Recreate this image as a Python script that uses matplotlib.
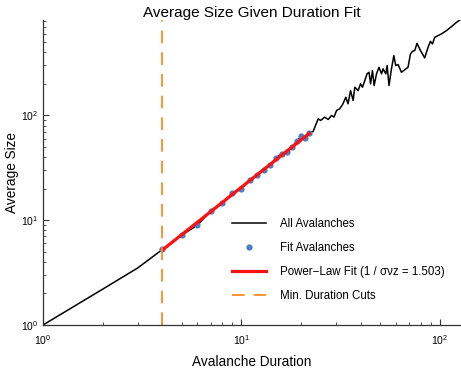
"""Average avalanche size vs duration with the power-law fit region."""
import matplotlib

matplotlib.use("Agg")
import matplotlib.pyplot as plt

plt.rcParams["font.family"] = ["Liberation Sans", "DejaVu Sans"]
plt.rcParams["mathtext.fontset"] = "custom"
plt.rcParams["mathtext.rm"] = "Liberation Sans"
plt.rcParams["mathtext.default"] = "regular"

# all avalanches: duration -> mean size
dur_all = [1, 2, 3, 4, 5, 6, 7, 8, 9, 10, 11, 12, 13, 14, 15, 16, 17, 18, 19,
           20, 21, 22, 23.0, 24.4, 25.1, 26.3, 27.4, 28.5, 29.3, 30.2, 31.3,
           32.4, 33.6, 34.5, 35.5, 36.6, 37.3, 38.8, 39.9, 40.8, 41.9, 43.0,
           44.0, 44.8, 45.8, 46.7, 48.0, 49.4, 50.9, 51.8, 53.5, 54.3, 55.5,
           57.1, 58.7, 60.0, 61.7, 64.1, 69.2, 71.2, 72.9, 74.8, 76.8, 80.0,
           84.0, 87.3, 89.8, 91.9, 94.4, 98.0, 102.0, 108.1, 114.5, 121.4, 126.2]
size_all = [1.0, 2.2, 3.5, 5.26, 7.2, 8.96, 12.2, 14.5, 18.1, 20.0, 24.2,
            27.2, 30.4, 33.9, 39.5, 43.2, 44.7, 49.9, 56.9, 63.0, 61.0, 67.8,
            70.4, 93.0, 89.6, 96.4, 91.6, 100.0, 96.4, 111.6, 115.8, 127.3,
            149.4, 129.2, 173.0, 139.0, 186.0, 173.0, 200.4, 186.0, 215.4,
            249.5, 258.5, 200.4, 268.3, 193.1, 249.5, 288.4, 249.5, 278.5,
            249.5, 299.3, 193.1, 278.5, 372.8, 299.3, 306.0, 258.5, 288.4,
            386.9, 409.7, 415.9, 488.2, 415.9, 354.4, 447.2, 510.1, 481.8,
            556.9, 578.0, 600.0, 645.0, 704.0, 773.6, 815.0]

# avalanches used in the fit
dur_fit = [4, 5, 6, 7, 8, 9, 10, 11, 12, 13, 14, 15, 16, 17, 18, 19, 20, 21, 22]
size_fit = [5.26, 7.2, 8.96, 12.2, 14.5, 18.1, 20.0, 24.2, 27.2, 30.4, 33.9,
            39.5, 43.2, 44.7, 49.9, 56.9, 63.0, 61.0, 67.8]

# power-law fit line ends, and the minimum duration cut
fit_line_dur = [4, 22]
fit_line_size = [5.2, 67.5]
min_dur_cut = 4
exponent = 1.503

fig = plt.figure(figsize=(4.61, 3.68), dpi=100)
ax = fig.add_axes([43 / 461, 1 - 325 / 368, 1 - 43 / 461, (325 - 20) / 368])

ax.plot(dur_all, size_all, color="black", lw=1.1, label="All Avalanches")
ax.plot(dur_fit, size_fit, "o", color="#4a7fc7", ms=4.5, mec="none",
        label="Fit Avalanches")
ax.plot(fit_line_dur, fit_line_size, color="#ff1010", lw=2.3,
        label=f"Power\u2212Law Fit (1 / \u03c3\u03bdz = {exponent:.3f})")
ax.axvline(min_dur_cut, color="#ff8a1f", lw=1.3, dashes=(7, 5),
           label="Min. Duration Cuts")

ax.set_xscale("log")
ax.set_yscale("log")
ax.set_xlim(1, 128)
ax.set_ylim(1, max(size_all))

for side in ("top", "right"):
    ax.spines[side].set_visible(False)
for side in ("left", "bottom"):
    ax.spines[side].set_color("#333333")
    ax.spines[side].set_linewidth(0.9)
ax.tick_params(which="both", direction="in", colors="#333333", labelsize=7.5,
               labelcolor="black")
ax.tick_params(which="major", length=4)
ax.tick_params(which="minor", length=2)
ax.tick_params(axis="x", pad=6)

ax.set_title("Average Size Given Duration Fit", fontsize=11, pad=1)
ax.set_xlabel("Avalanche Duration", fontsize=9.8)
ax.set_ylabel("Average Size", fontsize=9.8)
ax.xaxis.set_label_coords(0.5, -0.097)
ax.yaxis.set_label_coords(-0.057, 0.5)

ax.legend(loc="lower right", frameon=False, fontsize=8.3, handlelength=2.9,
          handletextpad=1.2, labelspacing=1.06, bbox_to_anchor=(0.985, 0.04))

fig.savefig("out.png", dpi=100)
